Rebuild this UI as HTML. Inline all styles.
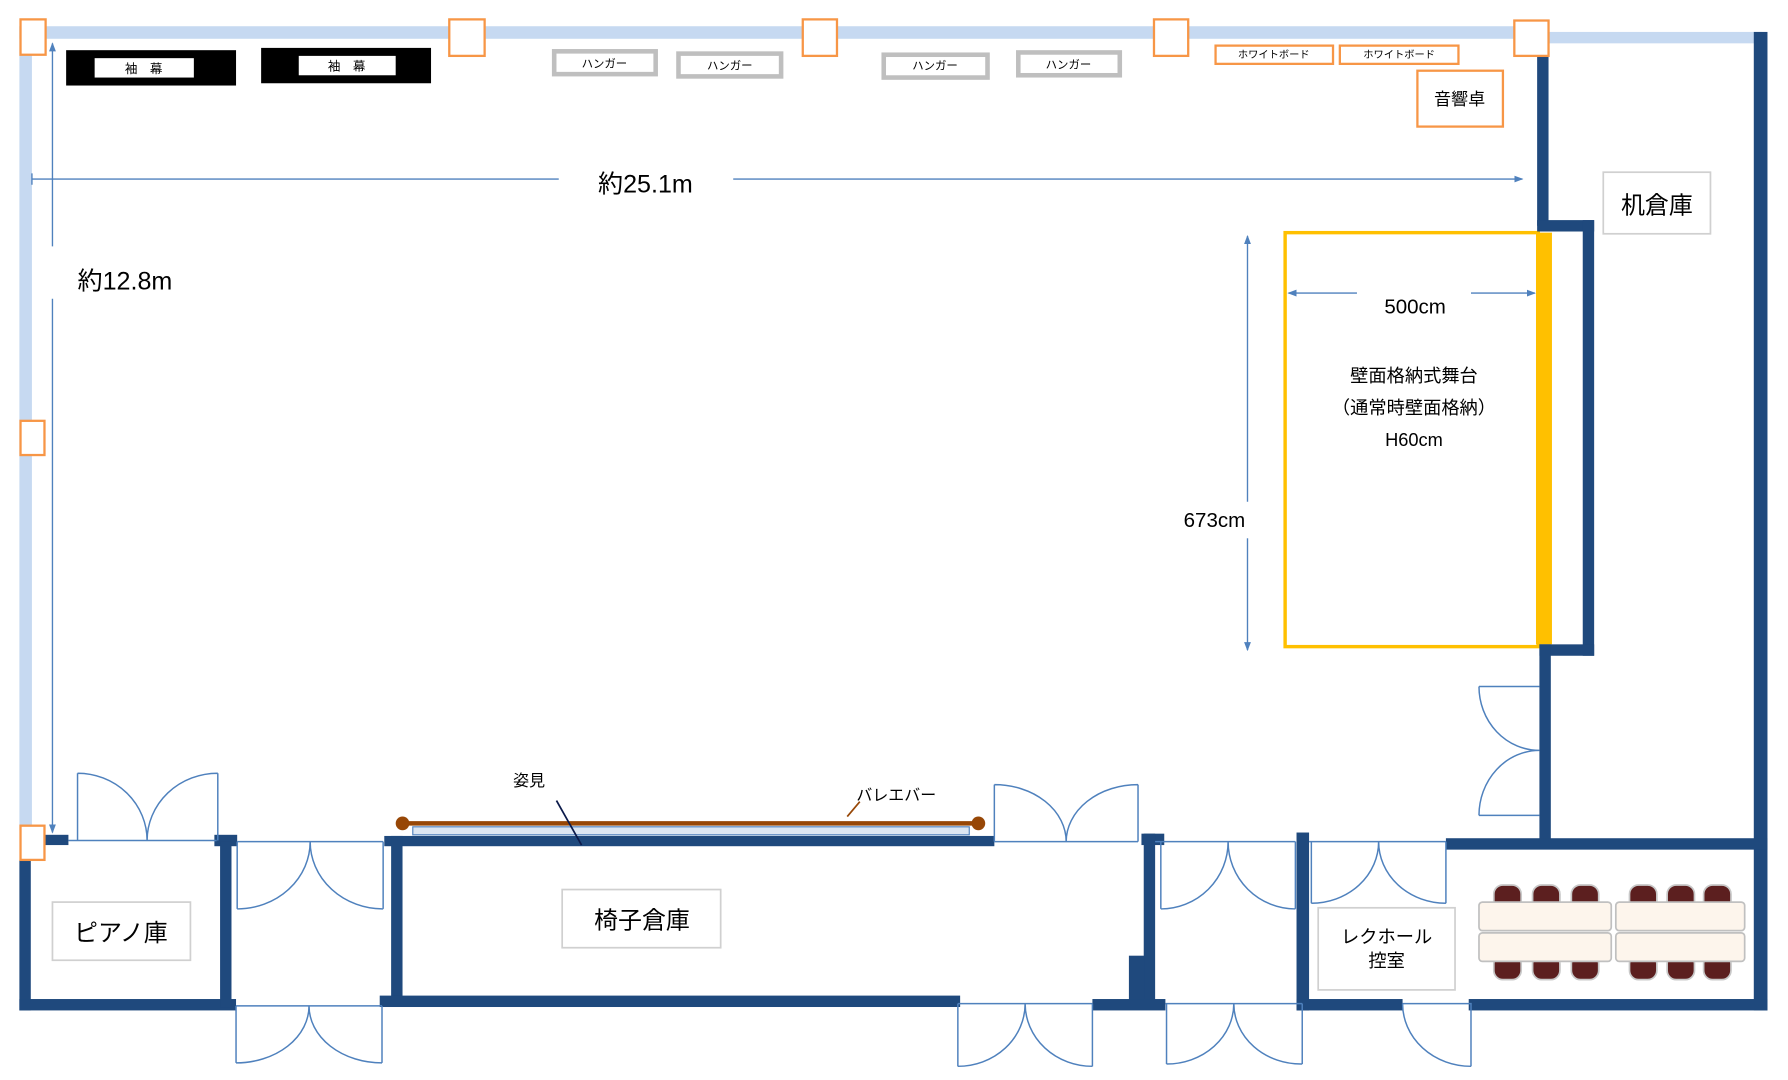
<!DOCTYPE html>
<html><head><meta charset="utf-8"><style>
html,body{margin:0;padding:0;background:#fff;}
svg{display:block;}
text{font-family:"Liberation Sans","Noto Sans CJK JP",sans-serif;fill:#000;}
</style></head><body>
<svg width="1788" height="1080" viewBox="0 0 1568 947" preserveAspectRatio="none" xmlns="http://www.w3.org/2000/svg">
<defs>
<marker id="ar" markerWidth="8" markerHeight="8" refX="7" refY="4" orient="auto" markerUnits="userSpaceOnUse"><path d="M0,1 L8,4 L0,7 z" fill="#4f81bd"/></marker>
</defs>
<!-- light blue walls -->
<rect x="17" y="23" width="1335" height="11" fill="#c6d9f1"/>
<rect x="1352" y="28" width="193" height="10" fill="#c6d9f1"/>
<rect x="17" y="23" width="11" height="705" fill="#c6d9f1"/>

<!-- sodemaku -->
<rect x="58" y="44" width="149" height="31" fill="#000"/>
<rect x="83" y="51" width="87" height="17" fill="#fff"/>
<text x="126" y="64" font-size="11" text-anchor="middle">袖　幕</text>
<rect x="229" y="42" width="149" height="31" fill="#000"/>
<rect x="262" y="49" width="85" height="17" fill="#fff"/>
<text x="304" y="62" font-size="11" text-anchor="middle">袖　幕</text>

<!-- hangers -->
<g fill="#fff" stroke="#bfbfbf" stroke-width="4">
<rect x="486" y="45" width="89" height="20"/>
<rect x="595" y="47" width="90" height="20"/>
<rect x="775" y="48" width="91" height="20"/>
<rect x="893" y="46" width="89" height="20"/>
</g>
<g font-size="10" text-anchor="middle">
<text x="530" y="59">ハンガー</text><text x="640" y="61">ハンガー</text>
<text x="820" y="61">ハンガー</text><text x="937" y="60">ハンガー</text>
</g>

<!-- whiteboards, sound desk -->
<g fill="#fff" stroke="#f79646" stroke-width="2">
<rect x="1066" y="40" width="103" height="16"/>
<rect x="1175" y="40" width="104" height="16"/>
<rect x="1243" y="62" width="75" height="49"/>
</g>
<text x="1117" y="51" font-size="9" text-anchor="middle">ホワイトボード</text>
<text x="1227" y="51" font-size="9" text-anchor="middle">ホワイトボード</text>
<text x="1280" y="92" font-size="15" text-anchor="middle">音響卓</text>

<!-- dimension lines -->
<g stroke="#4f81bd" stroke-width="1.2" fill="none">
<line x1="28" y1="152" x2="28" y2="162"/>
<line x1="28" y1="157" x2="490" y2="157"/>
<line x1="643" y1="157" x2="1335" y2="157" marker-end="url(#ar)"/>
<line x1="46" y1="216" x2="46" y2="38" marker-end="url(#ar)"/>
<line x1="46" y1="262" x2="46" y2="730" marker-end="url(#ar)"/>
<line x1="1094" y1="440" x2="1094" y2="207" marker-end="url(#ar)"/>
<line x1="1094" y1="472" x2="1094" y2="570" marker-end="url(#ar)"/>
<line x1="1190" y1="257" x2="1130" y2="257" marker-end="url(#ar)"/>
<line x1="1290" y1="257" x2="1346" y2="257" marker-end="url(#ar)"/>
</g>
<text x="566" y="169" font-size="22" text-anchor="middle">約25.1m</text>
<text x="68" y="254" font-size="22">約12.8m</text>
<text x="1065" y="462" font-size="18" text-anchor="middle">673cm</text>
<text x="1241" y="275" font-size="18" text-anchor="middle">500cm</text>

<!-- stage -->
<rect x="1127" y="204" width="222" height="363" fill="none" stroke="#ffc000" stroke-width="3"/>
<rect x="1347" y="204" width="14" height="361" fill="#ffc000"/>
<g font-size="16" text-anchor="middle">
<text x="1240" y="335">壁面格納式舞台</text>
<text x="1240" y="363">（通常時壁面格納）</text>
<text x="1240" y="391">H60cm</text>
</g>

<!-- dark walls -->
<g fill="#1f497d">
<rect x="1348" y="38" width="10" height="160"/>
<rect x="1348" y="193" width="50" height="10"/>
<rect x="1388" y="193" width="10" height="382"/>
<rect x="1350" y="565" width="48" height="10"/>
<rect x="1350" y="565" width="10" height="175"/>
<rect x="1538" y="28" width="12" height="858"/>
<rect x="1268" y="735" width="282" height="10"/>
<!-- left bottom -->
<rect x="38" y="732" width="22" height="9"/>
<rect x="188" y="732" width="20" height="10"/>
<rect x="17" y="754" width="10" height="132"/>
<rect x="17" y="876" width="190" height="10"/>
<rect x="193" y="738" width="10" height="145"/>
<!-- chair storage -->
<rect x="337" y="733" width="535" height="9"/>
<rect x="343" y="733" width="10" height="147"/>
<rect x="333" y="873" width="509" height="10"/>
<rect x="1001" y="731" width="20" height="10"/>
<rect x="1003" y="731" width="10" height="150"/>
<rect x="990" y="838" width="14" height="42"/>
<rect x="958" y="876" width="64" height="10"/>
<!-- lower right room -->
<rect x="1137" y="730" width="11" height="156"/>
<rect x="1137" y="876" width="93" height="10"/>
<rect x="1288" y="876" width="262" height="10"/>
</g>

<!-- orange squares -->
<g fill="#fff" stroke="#f79646" stroke-width="2">
<rect x="18" y="17" width="22" height="31"/>
<rect x="394" y="17" width="31" height="32"/>
<rect x="704" y="17" width="30" height="32"/>
<rect x="1012" y="17" width="30" height="32"/>
<rect x="1328" y="18" width="30" height="31"/>
<rect x="18" y="369" width="21" height="30"/>
<rect x="18" y="724" width="21" height="30"/>
</g>

<!-- 机倉庫 -->
<rect x="1406" y="151" width="94" height="54" fill="#fff" stroke="#d0d0d0" stroke-width="1.5"/>
<text x="1453" y="187" font-size="21" text-anchor="middle">机倉庫</text>

<!-- mirror and ballet bar -->
<rect x="362" y="725" width="488" height="7" fill="#dce6f2" stroke="#4f81bd" stroke-width="1"/>
<line x1="353" y1="722" x2="858" y2="722" stroke="#974706" stroke-width="4"/>
<circle cx="353" cy="722" r="6" fill="#974706"/>
<circle cx="858" cy="722" r="6" fill="#974706"/>
<line x1="488" y1="702" x2="510" y2="741" stroke="#0b1a4a" stroke-width="1.5"/>
<line x1="754" y1="703" x2="743" y2="716" stroke="#974706" stroke-width="1.5"/>
<text x="464" y="689" font-size="14" text-anchor="middle">姿見</text>
<text x="786" y="702" font-size="14" text-anchor="middle">バレエバー</text>

<!-- room labels -->
<g fill="#fff" stroke="#d0d0d0" stroke-width="1.5">
<rect x="46" y="791" width="121" height="51"/>
<rect x="493" y="780" width="139" height="51"/>
<rect x="1156" y="796" width="120" height="72"/>
</g>
<text x="106" y="825" font-size="21" text-anchor="middle">ピアノ庫</text>
<text x="563" y="814" font-size="21" text-anchor="middle">椅子倉庫</text>
<text x="1216" y="827" font-size="16" text-anchor="middle">レクホール</text>
<text x="1216" y="848" font-size="16" text-anchor="middle">控室</text>

<!-- doors -->
<g stroke="#4f81bd" stroke-width="1.3" fill="none">
<!-- door above piano -->
<path d="M60 737 L190 737 M68 737 V678 M191 737 V678 M68 678 A61 59 0 0 1 129 737 M191 678 A62 59 0 0 0 129 737"/>
<!-- between piano & chair, top -->
<path d="M208 738 H336 M208 738 V797 M336 738 V797 M208 797 A64 59 0 0 0 272 738 M336 797 A64 59 0 0 1 272 738"/>
<!-- bottom below -->
<path d="M207 882 H335 M207 882 V932 M335 882 V932 M207 932 A64 50 0 0 0 271 882 M335 932 A64 50 0 0 1 271 882"/>
<!-- door above chair storage right -->
<path d="M872 738 H998 M872 738 V688 M998 738 V688 M872 688 A63 50 0 0 1 935 738 M998 688 A63 50 0 0 0 935 738"/>
<!-- 1018-1136 -->
<path d="M1013 738 H1136 M1018 738 V797 M1136 738 V797 M1018 797 A59 59 0 0 0 1077 738 M1136 797 A59 59 0 0 1 1077 738"/>
<!-- 1150-1268 -->
<path d="M1148 738 H1268 M1150 738 V792 M1268 738 V792 M1150 792 A59 54 0 0 0 1209 738 M1268 792 A59 54 0 0 1 1209 738"/>
<!-- bottom 840-958 -->
<path d="M840 880 H958 M840 880 V935 M958 880 V935 M840 935 A59 55 0 0 0 899 880 M958 935 A59 55 0 0 1 899 880"/>
<!-- bottom 1023-1142 -->
<path d="M1022 880 H1142 M1023 880 V933 M1142 880 V933 M1023 933 A59 53 0 0 0 1082 880 M1142 933 A59 53 0 0 1 1082 880"/>
<!-- single leaf -->
<path d="M1230 880 H1290 V935 M1230 880 A60 55 0 0 0 1290 935"/>
<!-- right side door -->
<path d="M1297 602 H1350 M1297 715 H1350 M1297 602 A53 56 0 0 0 1350 658 M1297 715 A53 57 0 0 1 1350 658"/>
</g>

<!-- tables & chairs -->
<g fill="#5c1f1f" stroke="#c8c8c8" stroke-width="1.5">
<rect x="1310" y="776" width="24" height="22" rx="8"/>
<rect x="1344" y="776" width="24" height="22" rx="8"/>
<rect x="1378" y="776" width="24" height="22" rx="8"/>
<rect x="1429" y="776" width="24" height="22" rx="8"/>
<rect x="1462" y="776" width="24" height="22" rx="8"/>
<rect x="1494" y="776" width="24" height="22" rx="8"/>
<rect x="1310" y="837" width="24" height="22" rx="8"/>
<rect x="1344" y="837" width="24" height="22" rx="8"/>
<rect x="1378" y="837" width="24" height="22" rx="8"/>
<rect x="1429" y="837" width="24" height="22" rx="8"/>
<rect x="1462" y="837" width="24" height="22" rx="8"/>
<rect x="1494" y="837" width="24" height="22" rx="8"/>
</g>
<g fill="#fdf5ec" stroke="#c0c0c0" stroke-width="1.5">
<rect x="1297" y="791" width="116" height="25" rx="3"/>
<rect x="1297" y="818" width="116" height="25" rx="3"/>
<rect x="1417" y="791" width="113" height="25" rx="3"/>
<rect x="1417" y="818" width="113" height="25" rx="3"/>
</g>
</svg>
</body></html>
